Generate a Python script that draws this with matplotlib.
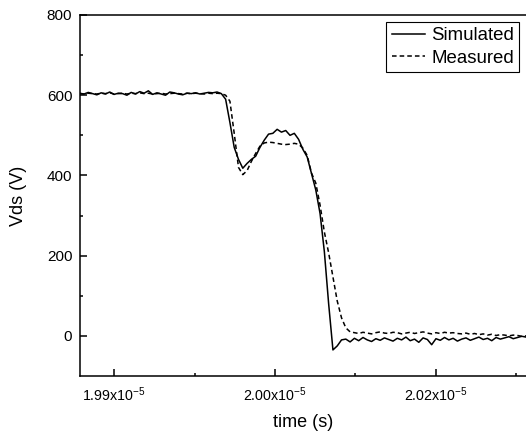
import numpy as np
import matplotlib
matplotlib.use("Agg")
import matplotlib.pyplot as plt
from matplotlib.ticker import FixedLocator, FixedFormatter

plt.rcParams['font.family'] = ['Liberation Sans', 'DejaVu Sans']
plt.rcParams['mathtext.default'] = 'regular'

# time grid of the samples (ns)
time_ns = np.arange(19868, 20285, 4)

simulated = [
    605, 603, 607, 604, 601, 606, 603, 608, 602, 605, 604, 600, 607, 603, 609, 605, 611,
    602, 606, 603, 600, 608, 606, 603, 601, 605, 604, 606, 603, 605, 607, 606, 608, 604,
    590, 532, 470, 440, 418, 430, 440, 448, 470, 488, 503, 505, 515, 508, 512, 500, 505,
    490, 465, 446, 405, 364, 305, 210, 80, -35, -25, -10,
    -8, -15, -6, -12, -4, -10, -14, -7, -11, -5, -9, -13, -6, -10, -3, -12, -8, -16, -5,
    -9, -22, -7, -11, -4, -10, -6, -13, -8, -5, -11, -7, -3, -9, -6, -12, -4, -8, -5, -2,
    -7, -4, -1, -3,
]

measured = [
    604, 603, 605, 604, 603, 605, 604, 606, 603, 604, 605, 603, 605, 604, 606, 604, 605,
    603, 604, 605, 603, 604, 605, 604, 603, 605, 604, 605, 604, 603, 605, 604, 605, 604,
    600, 585, 505, 420, 402, 412, 435, 455, 473, 481, 483, 482, 480, 478, 477, 478, 480,
    478, 468, 450, 406, 381, 326, 259, 207, 147, 87, 45, 20, 10,
    8, 6, 9, 7, 5, 8, 10, 7, 6, 9, 8, 5, 7, 9, 6, 8, 10, 7, 5, 8, 6, 9, 7, 8, 6, 5, 7, 4,
    6, 3, 5, 2, 4, 1, 3, 2, 0, 2, 1, -1, 0,
]

x_ticks = [1.99e-5, 2.005e-5, 2.02e-5]
x_tick_labels = ['1.99x10$^{-5}$', '2.00x10$^{-5}$', '2.02x10$^{-5}$']
x_minor = [1.9975e-5, 2.0125e-5, 2.0275e-5]
y_ticks = [0, 200, 400, 600, 800]
y_minor = [100, 300, 500, 700]

t = time_ns * 1e-9

fig = plt.figure(figsize=(5.26, 4.33), dpi=100)
ax = fig.add_axes([80 / 526, 57 / 433, 446 / 526, 361 / 433])

ax.plot(t, simulated, color='black', lw=1.1, label='Simulated')
ax.plot(t, measured, color='black', lw=1.1, ls=(0, (3, 2)), label='Measured')

ax.set_xlim(1.98683e-5, 2.02839e-5)
ax.set_ylim(-100, 800)

ax.xaxis.set_major_locator(FixedLocator(x_ticks))
ax.xaxis.set_major_formatter(FixedFormatter(x_tick_labels))
ax.xaxis.set_minor_locator(FixedLocator(x_minor))
ax.yaxis.set_major_locator(FixedLocator(y_ticks))
ax.yaxis.set_minor_locator(FixedLocator(y_minor))

ax.tick_params(which='both', direction='in', width=1.1, colors='black')
ax.tick_params(which='major', length=5)
ax.tick_params(which='minor', length=2.5)
ax.tick_params(axis='x', which='major', pad=7, labelsize=10.3)
ax.tick_params(axis='y', which='major', pad=5.5, labelsize=11)

for side in ['left', 'bottom', 'top']:
    ax.spines[side].set_linewidth(1.1)
ax.spines['right'].set_visible(False)

ax.set_xlabel('time (s)', fontsize=13, labelpad=7)
ax.set_ylabel('Vds (V)', fontsize=13, labelpad=14)

leg = ax.legend(loc='upper right', fontsize=13.4, frameon=True, fancybox=False,
                framealpha=1, edgecolor='black', handlelength=1.8, handletextpad=0.3,
                borderpad=0.3, borderaxespad=0.35, labelspacing=0.3)
leg.get_frame().set_linewidth(0.8)

fig.savefig('out.png', dpi=100)
